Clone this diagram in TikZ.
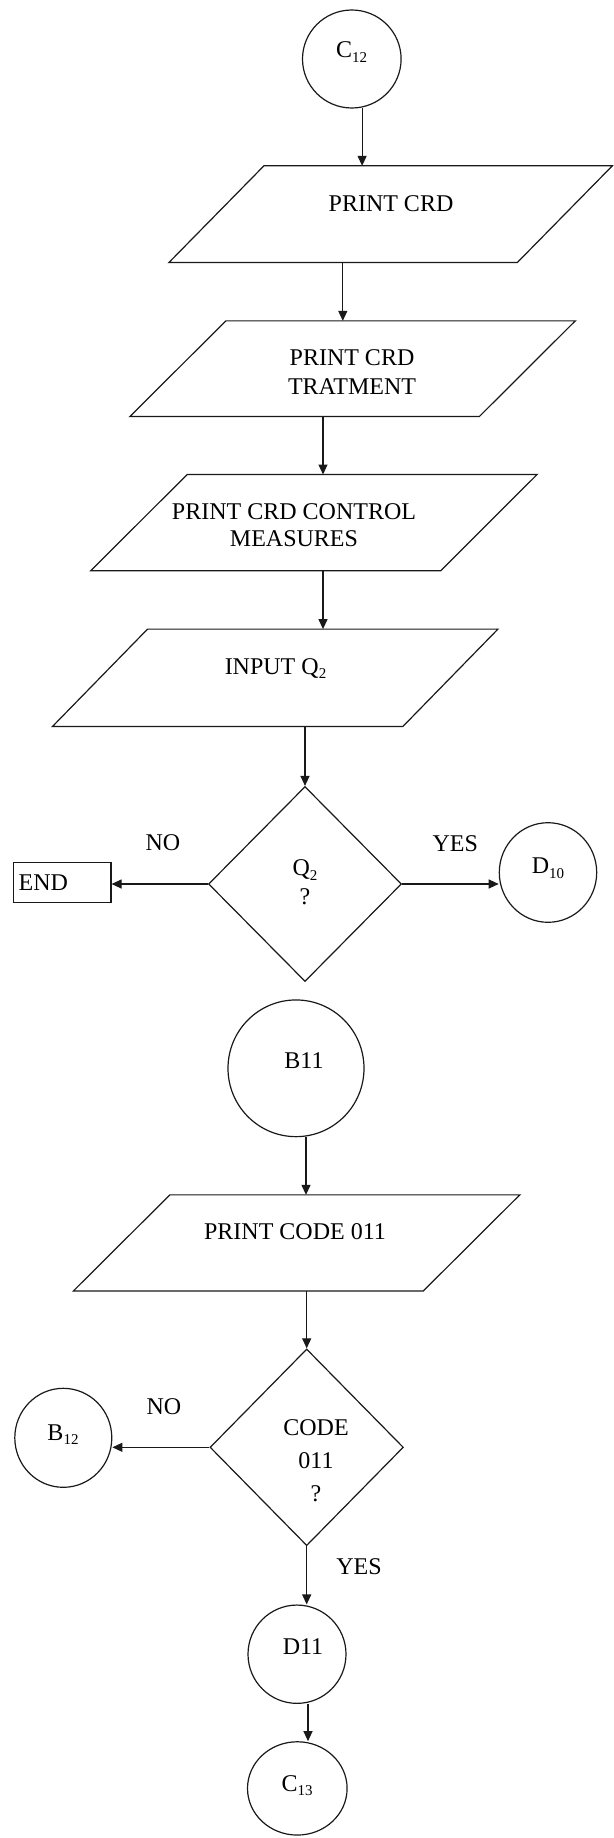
\documentclass[tikz,border=0pt]{standalone}
\usepackage{fontspec}
\setmainfont{Liberation Serif}
\usetikzlibrary{shapes.geometric,arrows.meta}
% lowered, smaller index after a capital letter
\newcommand\lowidx[1]{\raisebox{-4.5pt}{\fontsize{15}{15}\selectfont #1}}
% input/output box: name, centre x, centre y, full width, height, slant
\newcommand\ioshape[6]{%
  \node[inner sep=0pt, minimum width=#4pt, minimum height=#5pt] (#1) at (#2,#3) {};
  \draw[line] ([xshift=#6pt]#1.north west) -- (#1.north east)
    -- ([xshift=-#6pt]#1.south east) -- (#1.south west) -- cycle;
}
\begin{document}
\begin{tikzpicture}[x=1pt,y=-1pt,
  line/.style={line width=1.2pt, draw=black!90, line join=miter},
  arr/.style={line, -{Triangle[length=10pt,width=9pt]}},
  conn/.style={line, ellipse, inner sep=0pt},
  decision/.style={line, diamond, inner sep=0pt},
  txt/.style={anchor=north, inner sep=0pt, align=center, font=\fontsize{24}{28}\selectfont},
]
\useasboundingbox (0,0) rectangle (613,1838);

% ---- upper chart ----
\node[conn, minimum width=98.6pt, minimum height=98pt] (c12) at (351.8,59) {};
\node[txt] (c12t) at (351.5,41.7) {C\lowidx{12}};

\ioshape{p1}{390.6}{214.2}{443}{96.3}{95}
\node[txt] (p1t) at (391,195) {PRINT CRD};

\ioshape{p2}{352.6}{368.7}{445}{95.3}{96}
\node[txt, font=\fontsize{24}{28.3}\selectfont] (p2t) at (352,349.7) {PRINT CRD\\TRATMENT};

\ioshape{p3}{313.9}{522.65}{446}{95.9}{96.5}
\node[txt, font=\fontsize{24}{26.8}\selectfont] (p3t) at (294,503.6) {PRINT CRD CONTROL\\MEASURES};

\ioshape{p4}{275.25}{677.75}{445}{96.9}{95}
\node[txt] (p4t) at (275.5,658.1) {INPUT Q\lowidx{2}};

\node[decision, minimum width=193pt, minimum height=195pt] (d1) at (305,884) {};
\node[txt, font=\fontsize{24}{28.7}\selectfont] (d1t) at (305,859.5) {Q\lowidx{2}\\?};

\node[line, rectangle, minimum width=97.7pt, minimum height=39.6pt,
      text width=87pt, inner xsep=5.3pt, inner ysep=0pt, align=left,
      font=\fontsize{24}{28}\selectfont] (end) at (62.15,882.5) {END};

\node[conn, minimum width=97.4pt, minimum height=99.6pt] (d10) at (548,872.5) {};
\node[txt] (d10t) at (548,857.7) {D\lowidx{10}};

\node[txt] (no1) at (163,834.5) {NO};
\node[txt] (yes1) at (455.3,835) {YES};

\draw[arr] (c12.-78) -- (c12.-78 |- p1.north);
\draw[arr] ([xshift=-47.8pt]p1.south) -- ([xshift=-47.8pt]p1.south |- p2.north);
\draw[arr] ([xshift=-29.6pt]p2.south) -- ([xshift=-29.6pt]p2.south |- p3.north);
\draw[arr] ([xshift=9.1pt]p3.south) -- ([xshift=9.1pt]p3.south |- p4.north);
\draw[arr] (p4.south -| d1.north) -- (d1.north);
\draw[arr] (d1.west) -- (d1.west -| end.east);
\draw[arr] (d1.east) -- (d1.east -| d10.west);

% ---- lower chart ----
\node[conn, minimum width=136pt, minimum height=136.7pt] (b11) at (296,1068.3) {};
\node[txt] (b11t) at (304,1052) {B11};

\ioshape{p5}{296.6}{1242.9}{446}{95.7}{96.5}
\node[txt] (p5t) at (295,1223) {PRINT CODE 011};

\node[decision, minimum width=193.4pt, minimum height=196.7pt] (d2) at (306.7,1447.3) {};
\node[txt, font=\fontsize{24}{32.7}\selectfont] (d2t) at (316,1419.7) {CODE\\011\\?};

\node[conn, minimum width=97pt, minimum height=99pt] (b12) at (63.3,1437.8) {};
\node[txt] (b12t) at (63,1424.5) {B\lowidx{12}};

\node[conn, minimum width=98pt, minimum height=98.3pt] (d11) at (297,1654.2) {};
\node[txt] (d11t) at (303,1638.7) {D11};

\node[conn, minimum width=99.6pt, minimum height=93.3pt] (c13) at (297.3,1788.4) {};
\node[txt] (c13t) at (297,1775) {C\lowidx{13}};

\node[txt] (no2) at (164,1398.7) {NO};
\node[txt] (yes2) at (359,1558.7) {YES};

\draw[arr] ([xshift=10pt]b11.south) -- ([xshift=10pt]b11.south |- p5.north);
\draw[arr] (p5.south -| d2.north) -- (d2.north);
\draw[arr] (d2.west) -- (d2.west -| b12.east);
\draw[arr] (d2.south) -- (d2.south |- d11.north);
\draw[arr] ([xshift=11pt]d11.south) -- ([xshift=11pt]d11.south |- c13.north);
\end{tikzpicture}
\end{document}
